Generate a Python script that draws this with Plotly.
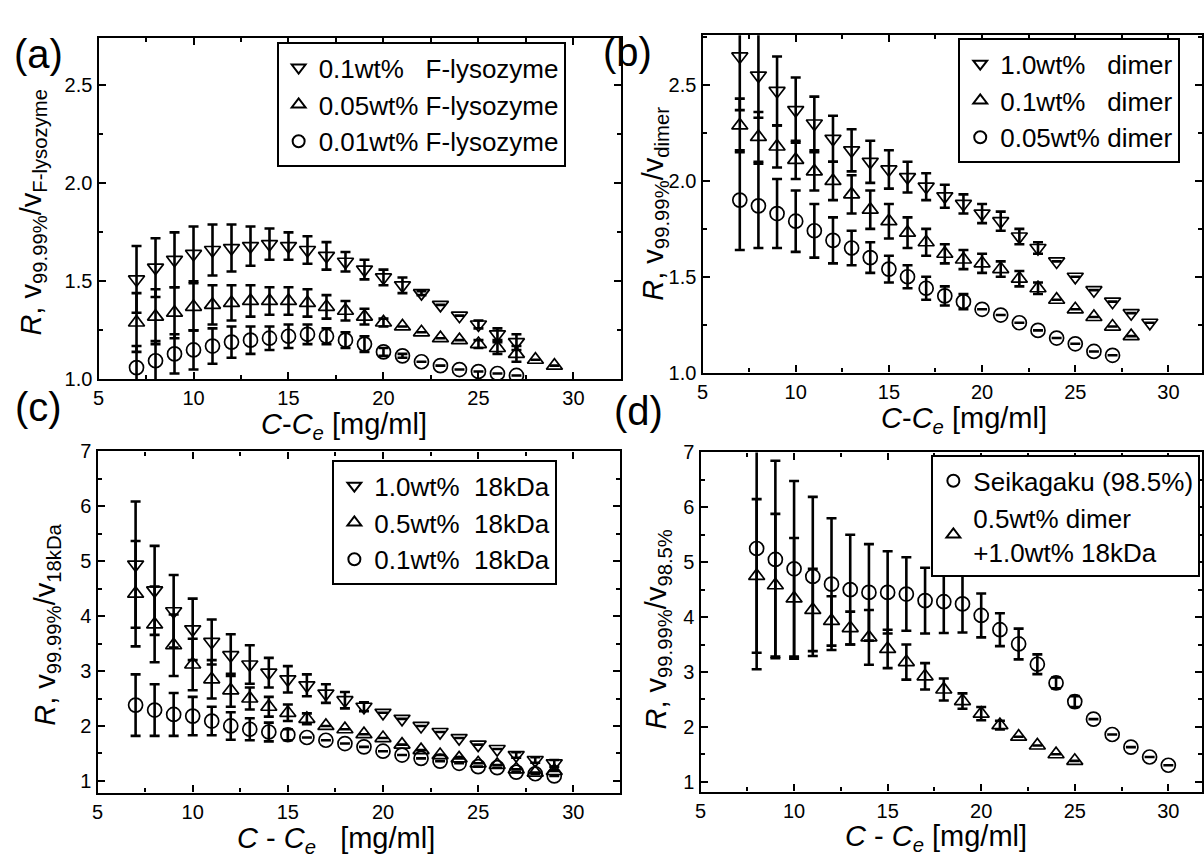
import plotly.graph_objects as go

W, H = 1204, 863

# ---------------- data ----------------
# (a) F-lysozyme
a_x_down = list(range(7, 28))
a_y_down = [1.51, 1.57, 1.61, 1.64, 1.66, 1.67, 1.68, 1.69, 1.68, 1.66, 1.63, 1.60, 1.56, 1.52,
            1.48, 1.44, 1.38, 1.325, 1.28, 1.23, 1.19]
a_e_down = [0.17, 0.15, 0.14, 0.14, 0.13, 0.12, 0.10, 0.08, 0.07, 0.07, 0.07, 0.05, 0.05, 0.04,
            0.04, 0.01, 0, 0, 0.02, 0.03, 0.04]
a_x_up = list(range(7, 30))
a_y_up = [1.29, 1.32, 1.34, 1.37, 1.38, 1.39, 1.40, 1.40, 1.40, 1.39, 1.37, 1.35, 1.32, 1.29,
          1.27, 1.24, 1.21, 1.20, 1.18, 1.16, 1.13, 1.10, 1.07]
a_e_up = [0.15, 0.14, 0.13, 0.12, 0.10, 0.09, 0.08, 0.07, 0.07, 0.07, 0.06, 0.05, 0.04, 0.02,
          0, 0, 0, 0, 0.02, 0.03, 0.04, 0, 0]
a_x_c = list(range(7, 28))
a_y_c = [1.06, 1.095, 1.13, 1.15, 1.17, 1.19, 1.20, 1.21, 1.22, 1.23, 1.22, 1.20, 1.18, 1.14,
         1.12, 1.09, 1.07, 1.05, 1.04, 1.03, 1.02]
a_e_c = [0.11, 0.10, 0.10, 0.10, 0.09, 0.08, 0.07, 0.06, 0.06, 0.05, 0.04, 0.04, 0.04, 0.02,
         0.01, 0, 0, 0, 0, 0, 0]

# (b) dimer
b_x_down = list(range(7, 30))
b_y_down = [2.65, 2.55, 2.47, 2.37, 2.30, 2.22, 2.16, 2.10, 2.06, 2.02, 1.97, 1.92, 1.88, 1.83,
            1.79, 1.71, 1.65, 1.58, 1.50, 1.43, 1.37, 1.31, 1.26]
b_e_down = [0.28, 0.22, 0.18, 0.17, 0.14, 0.12, 0.11, 0.11, 0.10, 0.08, 0.07, 0.06, 0.05, 0.05,
            0.05, 0.04, 0.03, 0, 0, 0, 0, 0, 0]
b_x_up = list(range(7, 29))
b_y_up = [2.29, 2.23, 2.18, 2.11, 2.05, 2.00, 1.93, 1.85, 1.79, 1.73, 1.68, 1.62, 1.59, 1.57,
          1.54, 1.49, 1.44, 1.38, 1.33, 1.29, 1.24, 1.19]
b_e_up = [0.14, 0.13, 0.11, 0.10, 0.10, 0.10, 0.10, 0.10, 0.09, 0.08, 0.07, 0.05, 0.05, 0.05,
          0.04, 0.04, 0.03, 0, 0, 0, 0, 0]
b_x_c = list(range(7, 28))
b_y_c = [1.90, 1.87, 1.83, 1.79, 1.74, 1.69, 1.65, 1.60, 1.54, 1.50, 1.44, 1.40, 1.37, 1.33,
         1.30, 1.26, 1.22, 1.18, 1.15, 1.11, 1.09]
b_e_c = [0.26, 0.22, 0.18, 0.16, 0.14, 0.12, 0.09, 0.08, 0.07, 0.06, 0.06, 0.05, 0.04, 0,
         0, 0, 0, 0, 0, 0, 0]

# (c) 18kDa
c_x = list(range(7, 30))
c_y_down = [4.94, 4.47, 4.09, 3.76, 3.53, 3.29, 3.12, 2.97, 2.85, 2.74, 2.59, 2.47, 2.35, 2.24,
            2.13, 2.00, 1.89, 1.78, 1.66, 1.58, 1.47, 1.38, 1.32]
c_e_down = [1.15, 0.81, 0.66, 0.56, 0.41, 0.38, 0.35, 0.27, 0.24, 0.20, 0.17, 0.15, 0.08, 0,
            0, 0, 0, 0, 0, 0, 0.05, 0.05, 0.06]
c_y_up = [4.41, 3.85, 3.47, 3.12, 2.85, 2.65, 2.50, 2.35, 2.24, 2.13, 2.00, 1.94, 1.85, 1.78,
          1.66, 1.56, 1.47, 1.41, 1.32, 1.29, 1.21, 1.15, 1.18]
c_e_up = [0.96, 0.69, 0.56, 0.47, 0.35, 0.30, 0.20, 0.18, 0.15, 0.10, 0, 0, 0, 0,
          0, 0, 0, 0, 0, 0, 0, 0, 0]
c_y_c = [2.38, 2.29, 2.21, 2.18, 2.09, 2.00, 1.94, 1.89, 1.84, 1.79, 1.74, 1.68, 1.62, 1.54,
         1.47, 1.41, 1.36, 1.32, 1.26, 1.24, 1.16, 1.13, 1.09]
c_e_c = [0.56, 0.47, 0.39, 0.35, 0.26, 0.25, 0.20, 0.17, 0.10, 0, 0, 0, 0, 0,
         0, 0, 0, 0, 0, 0, 0, 0, 0]

# (d) Seikagaku vs mixture
d_x_c = list(range(8, 31))
d_y_c = [5.25, 5.05, 4.88, 4.74, 4.60, 4.50, 4.45, 4.45, 4.42, 4.30, 4.28, 4.24, 4.03, 3.77,
         3.51, 3.14, 2.80, 2.46, 2.14, 1.86, 1.63, 1.45, 1.30]
d_e_c = [2.2, 1.8, 1.6, 1.45, 1.2, 1.0, 0.88, 0.75, 0.67, 0.6, 0.57, 0.52, 0.40, 0.30,
         0.28, 0.18, 0.10, 0.10, 0, 0, 0, 0, 0]
d_x_t = list(range(8, 26))
d_y_t = [4.75, 4.58, 4.34, 4.13, 3.93, 3.80, 3.63, 3.42, 3.18, 2.92, 2.68, 2.47, 2.24, 2.03,
         1.82, 1.66, 1.50, 1.38]
d_e_t = [1.4, 1.3, 1.1, 0.75, 0.45, 0.3, 0.5, 0.35, 0.32, 0.24, 0.2, 0.14, 0.12, 0.08,
         0, 0, 0, 0]

# legend labels
a_names = ["0.1wt%\u00a0\u00a0\u00a0F-lysozyme", "0.05wt% F-lysozyme", "0.01wt% F-lysozyme"]
b_names = ["1.0wt%\u00a0\u00a0\u00a0dimer", "0.1wt%\u00a0\u00a0\u00a0dimer", "0.05wt% dimer"]
c_names = ["1.0wt%\u00a0\u00a018kDa", "0.5wt%\u00a0\u00a018kDa", "0.1wt%\u00a0\u00a018kDa"]
d_names = ["Seikagaku (98.5%)", "0.5wt% dimer<br>+1.0wt% 18kDa"]

FONT = "Liberation Sans, Arial, sans-serif"

fig = go.Figure()


def add(x, y, e, sym, name, ax, leg):
    fig.add_trace(go.Scatter(
        x=x, y=y, mode="markers", name=name,
        xaxis="x" + ax, yaxis="y" + ax, legend=leg,
        marker=dict(symbol=sym, size=14, color="black", line=dict(width=1.7, color="black")),
        error_y=dict(type="data", array=e, visible=True, color="black", thickness=2.6, width=5),
    ))


add(a_x_down, a_y_down, a_e_down, "triangle-down-open", a_names[0], "", "legend")
add(a_x_up, a_y_up, a_e_up, "triangle-up-open", a_names[1], "", "legend")
add(a_x_c, a_y_c, a_e_c, "circle-open", a_names[2], "", "legend")

add(b_x_down, b_y_down, b_e_down, "triangle-down-open", b_names[0], "2", "legend2")
add(b_x_up, b_y_up, b_e_up, "triangle-up-open", b_names[1], "2", "legend2")
add(b_x_c, b_y_c, b_e_c, "circle-open", b_names[2], "2", "legend2")

add(c_x, c_y_down, c_e_down, "triangle-down-open", c_names[0], "3", "legend3")
add(c_x, c_y_up, c_e_up, "triangle-up-open", c_names[1], "3", "legend3")
add(c_x, c_y_c, c_e_c, "circle-open", c_names[2], "3", "legend3")

add(d_x_c, d_y_c, d_e_c, "circle-open", d_names[0], "4", "legend4")
add(d_x_t, d_y_t, d_e_t, "triangle-up-open", d_names[1], "4", "legend4")


def px_x(p):
    return p / W


def px_y(p):
    return 1 - p / H


def xax(dom, rng):
    return dict(domain=[px_x(dom[0]), px_x(dom[1])], range=rng, dtick=5, tick0=5,
                ticks="inside", ticklen=7, tickwidth=2, tickcolor="black",
                showline=True, linewidth=2.2, linecolor="black", mirror="allticks",
                showgrid=False, zeroline=False,
                minor=dict(dtick=2.5, tick0=5, ticks="inside", ticklen=4, tickwidth=2, tickcolor="black"),
                tickfont=dict(family=FONT, size=20, color="black"))


def yax(dom, rng, dt, mdt, fmt, anchor):
    return dict(domain=[px_y(dom[1]), px_y(dom[0])], range=rng, dtick=dt, tick0=1,
                anchor=anchor, tickformat=fmt,
                ticks="inside", ticklen=7, tickwidth=2, tickcolor="black",
                showline=True, linewidth=2.2, linecolor="black", mirror="allticks",
                showgrid=False, zeroline=False,
                minor=dict(dtick=mdt, ticks="inside", ticklen=4, tickwidth=2, tickcolor="black"),
                tickfont=dict(family=FONT, size=20, color="black"))


def leg(xp, yp):
    return dict(x=px_x(xp), y=px_y(yp), xanchor="left", yanchor="top",
                bgcolor="white", bordercolor="black", borderwidth=2,
                font=dict(family=FONT, size=26, color="black"),
                itemsizing="constant",
                tracegroupgap=0, itemclick=False)


fig.update_layout(
    width=W, height=H, margin=dict(l=0, r=0, t=0, b=0),
    paper_bgcolor="white", plot_bgcolor="white",
    font=dict(family=FONT, color="black"),
    xaxis=dict(**xax((93, 618), [5, 32.5]), anchor="y"),
    yaxis=yax((28, 378), [1.0, 2.74], 0.5, 0.25, ".1f", "x"),
    xaxis2=dict(**xax((700, 1202), [5, 31.8]), anchor="y2"),
    yaxis2=yax((25, 371), [1.0, 2.76], 0.5, 0.25, ".1f", "x2"),
    xaxis3=dict(**xax((92, 617), [5, 32.45]), anchor="y3"),
    yaxis3=yax((452, 802), [0.787, 7.0], 1, 0.5, "d", "x3"),
    xaxis4=dict(**xax((698, 1202), [5, 31.8]), anchor="y4"),
    yaxis4=yax((453, 801), [0.82, 7.0], 1, 0.5, "d", "x4"),
    legend=leg(272, 32),
    legend2=leg(957, 28),
    legend3=leg(328, 461),
    legend4=leg(930, 456),
)

# axis titles and panel labels
TF = dict(family=FONT, size=29, color="black")
xt = "<i>C</i>-<i>C</i><sub><i>e</i></sub> [mg/ml]"
xt2 = "<i>C</i> - <i>C</i><sub><i>e</i></sub>\u00a0\u00a0\u00a0[mg/ml]"
xt3 = "<i>C</i> - <i>C</i><sub><i>e</i></sub> [mg/ml]"
titles = [
    (340, 426, xt, 0), (963, 420, xt, 0), (332, 851, xt2, 0), (935, 849, xt3, 0),
    (27, 206, "<i>R</i>, v<sub>99.99%</sub>/v<sub>F-lysozyme</sub>", -90),
    (652, 198, "<i>R</i>, v<sub>99.99%</sub>/v<sub>dimer</sub>", -90),
    (41, 630, "<i>R</i>, v<sub>99.99%</sub>/v<sub>18kDa</sub>", -90),
    (655, 635, "<i>R</i>, v<sub>99.99%</sub>/v<sub>98.5%</sub>", -90),
]
for xp, yp, t, ang in titles:
    fig.add_annotation(x=px_x(xp), y=px_y(yp), xref="paper", yref="paper", text=t,
                       showarrow=False, textangle=ang, font=TF, xanchor="center", yanchor="middle")

for xp, yp, t in [(33, 44, "(a)"), (625, 42, "(b)"), (33, 406, "(c)"), (636, 410, "(d)")]:
    fig.add_annotation(x=px_x(xp), y=px_y(yp), xref="paper", yref="paper", text=t,
                       showarrow=False, font=dict(family=FONT, size=40, color="black"),
                       xanchor="center", yanchor="middle")

fig.write_html("out.html")
